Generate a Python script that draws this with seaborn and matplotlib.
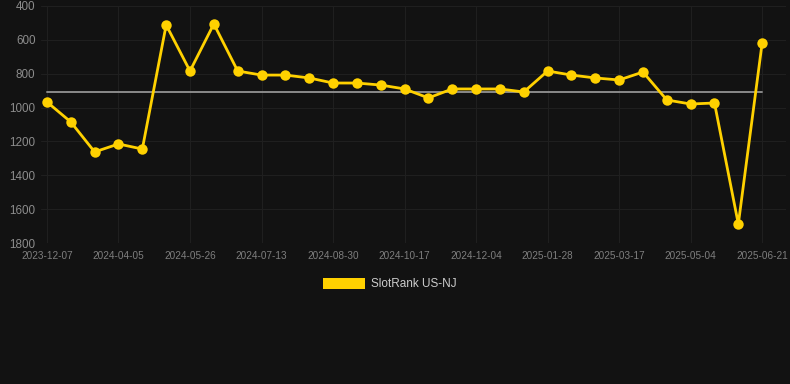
import matplotlib
matplotlib.use("Agg")
import matplotlib.pyplot as plt
import seaborn as sns
import pandas as pd
import numpy as np
from matplotlib.patches import Rectangle

tick_labels = ["2023-12-07", "2024-04-05", "2024-05-26", "2024-07-13", "2024-08-30",
               "2024-10-17", "2024-12-04", "2025-01-28", "2025-03-17", "2025-05-04",
               "2025-06-21"]
ranks = [967, 1085, 1262, 1215, 1245, 512, 784, 506, 784, 808,
         808, 825, 855, 855, 867, 890, 943, 890, 890, 890,
         908, 784, 808, 825, 837, 790, 955, 979, 973, 1688, 618]
average_rank = 910
series_name = "SlotRank US-NJ"

df = pd.DataFrame({"idx": np.arange(len(ranks)), "rank": ranks})

sns.set_theme(style="dark")
plt.rcParams['font.family'] = ['Liberation Sans', 'DejaVu Sans']

bg = "#121212"
fig = plt.figure(figsize=(7.9, 3.84), dpi=100, facecolor=bg)
ax = fig.add_axes([41/790, 1-243/384, (786-41)/790, (243-6)/384])
ax.set_facecolor(bg)

sns.lineplot(data=df, x="idx", y="rank", ax=ax, color="#FFD100", linewidth=2.0,
             marker="o", markersize=7.5, markeredgewidth=0, zorder=3)
ax.plot([0, len(ranks)-1], [average_rank, average_rank], color="#8a8a8a", linewidth=1.4, zorder=2)

ax.set_ylim(1800, 400)
ax.set_xlim(-0.25, 31.0)
ax.set_yticks([400, 600, 800, 1000, 1200, 1400, 1600, 1800])
ax.set_xticks(list(range(0, len(ranks), 3)))
ax.set_xticklabels(tick_labels)
ax.tick_params(axis="y", labelsize=8.4, colors="#8c8c8c", length=0, pad=4)
ax.tick_params(axis="x", labelsize=7.2, colors="#7e7e7e", length=0, pad=6)
ax.grid(True, color="#1f1f1f", linewidth=0.8)
for s in ax.spines.values():
    s.set_visible(False)
ax.set_xlabel("")
ax.set_ylabel("")

handle = Rectangle((0, 0), 1, 1, facecolor="#FFD100", edgecolor="none")
fig.legend([handle], [series_name], loc="center", bbox_to_anchor=(390/790, 1-284/384),
           frameon=False, fontsize=8.5, labelcolor="#cccccc", handlelength=3.6,
           handleheight=1.1, handletextpad=0.5)

fig.savefig("out.png", dpi=100, facecolor=bg)
